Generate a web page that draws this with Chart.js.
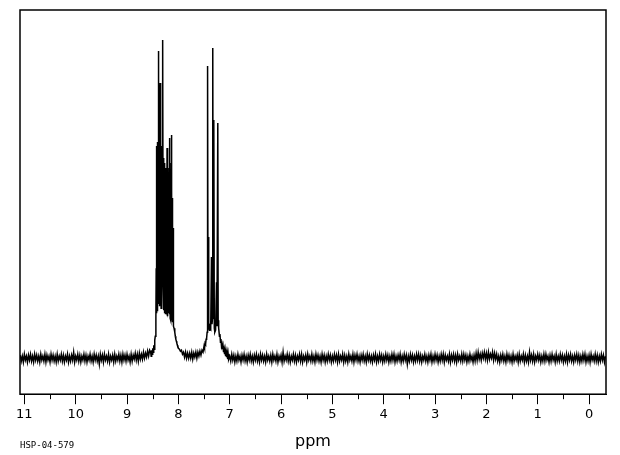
<!DOCTYPE html>
<html>
<head>
<meta charset="utf-8">
<script src="https://cdn.jsdelivr.net/npm/chart.js@4.4.1/dist/chart.umd.min.js"></script>
<style>
  html, body { margin:0; padding:0; background:#fff; }
  #wrap { width:620px; height:455px; }
</style>
</head>
<body>
<div id="wrap"><canvas id="nmr"></canvas></div>
<script>
// ── 1H NMR spectrum, HSP-04-579 ──────────────────────────────
const sampleId   = 'HSP-04-579';
const majorTicks = [0,1,2,3,4,5,6,7,8,9,10,11];
const minorTicks = [0.5,1.5,2.5,3.5,4.5,5.5,6.5,7.5,8.5,9.5,10.5];

const ppmStep   = 0.02;
const leftStart = 11.08;   // 11.08 → 8.56
const leftNoise = [
  3,-3,2,-4,4,-2,2,-4,3,-2,4,-3,2,-4,4,-2,3,-3,2,-4,
  4,-2,2,-3,4,-4,3,-2,2,-4,4,-2,3,-3,2,-4,4,-3,2,-2,
  4,-3,3,-4,2,-2,4,-4,2,-3,3,-2,6,-4,2,-2,4,-3,3,-4,
  2,-2,4,-3,3,-4,2,-2,4,-3,2,-4,4,-2,3,-3,2,-6,4,-2,
  3,-4,4,-2,2,-3,4,-4,2,-2,3,-4,4,-3,2,-2,4,-3,3,-4,
  4,-2,3,-3,4,-2,2,-4,4,-3,3,-1,5,-2,4,-3,5,-1,4,-1,
  6,0,5,1,7,2,8
];

// signal region 8.54 → 7.02 ppm : [ppm, intensity]
const peakRegion = [
  [8.54,6],[8.53,2],[8.52,8],[8.51,4],[8.50,10],[8.49,6],[8.48,13],[8.47,9],
  [8.46,18],[8.45,22],[8.44,30],[8.436,40],
  [8.432,90],[8.428,45],[8.424,212],[8.420,48],[8.416,208],[8.412,52],[8.408,216],[8.404,47],
  [8.400,206],[8.396,55],[8.392,214],[8.388,58],[8.384,307],[8.380,62],[8.376,212],[8.372,52],
  [8.368,218],[8.364,56],[8.360,210],[8.356,275],[8.352,60],[8.348,214],[8.344,54],[8.340,205],
  [8.336,50],[8.332,212],[8.328,57],[8.324,208],[8.320,60],[8.316,200],[8.312,76],[8.308,150],
  [8.304,80],[8.300,318],[8.296,72],[8.292,158],[8.288,56],[8.284,200],[8.280,48],[8.276,195],
  [8.272,52],[8.268,160],[8.264,45],[8.260,190],[8.256,50],[8.252,170],[8.248,44],[8.244,185],
  [8.240,48],[8.236,175],[8.232,52],[8.228,188],[8.224,46],[8.220,210],[8.216,50],[8.212,180],
  [8.208,42],[8.204,170],[8.200,48],[8.196,185],[8.192,45],[8.188,176],[8.184,50],[8.180,190],
  [8.176,44],[8.172,220],[8.168,48],[8.164,178],[8.160,40],[8.156,168],[8.152,46],[8.148,182],
  [8.144,38],[8.140,195],[8.136,223],[8.132,42],[8.128,170],[8.124,40],[8.120,150],[8.116,38],
  [8.112,160],[8.108,36],[8.104,130],[8.100,34],[8.096,100],[8.092,32],
  [8.085,30],[8.07,26],[8.06,22],[8.05,19],[8.04,17],[8.03,15],[8.02,13],[8.01,12],[8.00,10],
  [7.98,9],[7.96,7],[7.94,8],[7.92,4],[7.90,6],
  [7.88,1],[7.86,6],[7.84,0],[7.82,5],[7.80,0],[7.78,5],[7.76,0],[7.74,6],[7.72,-1],[7.70,5],
  [7.68,1],[7.66,6],[7.64,0],[7.62,6],[7.60,2],[7.58,7],[7.56,3],[7.54,8],[7.52,6],[7.50,12],
  [7.49,10],[7.48,15],[7.47,14],[7.46,19],[7.45,20],[7.44,26],[7.435,30],
  [7.427,292],[7.422,34],[7.413,121],[7.405,30],[7.395,28],[7.385,32],[7.37,30],[7.355,101],
  [7.345,34],[7.335,40],[7.330,310],[7.322,55],[7.310,238],[7.300,30],[7.290,26],[7.275,28],
  [7.257,76],[7.248,32],[7.232,235],[7.225,38],[7.215,30],
  [7.20,22],[7.19,24],[7.18,16],[7.17,19],[7.16,12],[7.15,14],[7.14,9],[7.13,12],[7.12,6],
  [7.11,9],[7.10,4],[7.09,8],[7.08,2],[7.07,6],[7.06,1],[7.05,5],[7.04,-1],[7.03,4],[7.02,-1]
];

const rightStart = 7.00;   // 7.00 → -0.32
const rightNoise = [
  2,-3,4,-2,3,-4,2,-3,4,-2,2,-4,3,-2,4,-3,2,-4,3,-2,
  4,-3,2,-4,3,-2,4,-3,2,-4,4,-2,3,-3,2,-4,4,-2,2,-3,
  3,-4,4,-2,2,-3,4,-4,2,-2,3,-4,6,-3,2,-2,4,-3,3,-4,
  2,-2,4,-3,3,-4,2,-2,4,-3,4,-4,2,-2,3,-4,4,-2,2,-3,
  4,-3,2,-4,4,-2,3,-3,2,-4,4,-2,3,-4,2,-3,4,-2,3,-4,
  2,-3,4,-2,3,-4,4,-3,2,-2,4,-4,3,-3,2,-4,4,-2,2,-3,
  4,-4,3,-2,4,-3,2,-4,3,-2,4,-3,2,-4,4,-2,3,-3,2,-4,
  3,-2,4,-4,2,-3,4,-2,3,-4,2,-3,4,-2,3,-4,2,-3,4,-2,
  4,-4,2,-3,3,-2,4,-4,2,-3,4,-2,3,-6,2,-3,4,-2,3,-4,
  2,-3,4,-2,4,-3,3,-4,2,-2,4,-3,2,-4,3,-2,4,-4,2,-3,
  4,-2,3,-4,2,-3,4,-2,4,-4,3,-2,2,-3,4,-4,3,-2,4,-3,
  3,-4,4,-2,2,-3,4,-3,4,-2,3,-4,2,-3,4,-2,2,-4,3,-3,
  5,-2,6,-1,4,-2,5,0,6,-1,5,-2,6,-1,4,0,6,-2,5,-1,
  4,-3,2,-4,3,-2,4,-3,2,-4,4,-2,3,-3,2,-4,4,-3,2,-2,
  3,-4,4,-3,2,-2,4,-4,3,-3,2,-4,6,-2,3,-3,4,-4,2,-2,
  4,-2,3,-4,2,-3,4,-3,4,-2,2,-4,3,-3,4,-2,2,-4,4,-3,
  2,-3,4,-2,3,-4,2,-3,4,-4,3,-2,4,-3,2,-4,3,-2,4,-3,
  3,-4,2,-3,4,-2,4,-4,2,-3,3,-4,4,-2,2,-3,4,-3,3,-4,
  2,-3,4,-2,3,-4,2
];

// ── Build points ─────────────────────────────────────────────
const points = [];
leftNoise.forEach((v, i)  => points.push({ x: +(leftStart  - i*ppmStep).toFixed(3), y: v }));
peakRegion.forEach(([p, v]) => points.push({ x: p, y: v }));
rightNoise.forEach((v, i) => points.push({ x: +(rightStart - i*ppmStep).toFixed(3), y: v }));

// ── Frame, minor ticks, sample id ────────────────────────────
const framePlugin = {
  id: 'frame',
  afterDraw(chart) {
    const { ctx, chartArea: a, scales: { x } } = chart;
    ctx.save();
    ctx.strokeStyle = '#000';
    ctx.lineWidth = 1.5;
    ctx.strokeRect(a.left, a.top, a.right - a.left, a.bottom - a.top);
    ctx.lineWidth = 1;
    ctx.beginPath();
    minorTicks.forEach(v => {
      const px = Math.round(x.getPixelForValue(v)) + 0.5;
      ctx.moveTo(px, a.bottom);
      ctx.lineTo(px, a.bottom + 5);
    });
    ctx.stroke();
    ctx.font = '9px "DejaVu Sans Mono"';
    ctx.fillStyle = '#000';
    ctx.textBaseline = 'alphabetic';
    ctx.fillText(sampleId, a.left, 448);
    ctx.restore();
  }
};

new Chart(document.getElementById('nmr'), {
  type: 'line',
  data: {
    datasets: [{
      data: points,
      borderColor: '#000', borderWidth: 1.5,
      pointRadius: 0, tension: 0, fill: false
    }]
  },
  options: {
    responsive: true, maintainAspectRatio: false, animation: false,
    layout: { padding: { left: 20, right: 14, top: 10, bottom: 4 } },
    plugins: { legend: { display: false }, tooltip: { enabled: false } },
    scales: {
      x: {
        type: 'linear', reverse: true, min: -0.33, max: 11.085,
        afterBuildTicks: s => { s.ticks = majorTicks.map(v => ({ value: v })); },
        ticks: {
          color: '#000', font: { family: 'DejaVu Sans', size: 13 },
          padding: 3, maxRotation: 0, autoSkip: false, includeBounds: false,
          callback: v => String(v)
        },
        grid: { drawOnChartArea: false, drawTicks: true, tickLength: 10, tickColor: '#000', tickWidth: 1 },
        border: { display: true, color: '#000', width: 1 },
        title: {
          display: true, text: 'ppm', color: '#000',
          font: { family: 'DejaVu Sans', size: 16 }, padding: { top: 6, bottom: 0 }
        }
      },
      y: { display: false, min: -36, max: 348 }
    }
  },
  plugins: [framePlugin]
});
</script>
</body>
</html>
